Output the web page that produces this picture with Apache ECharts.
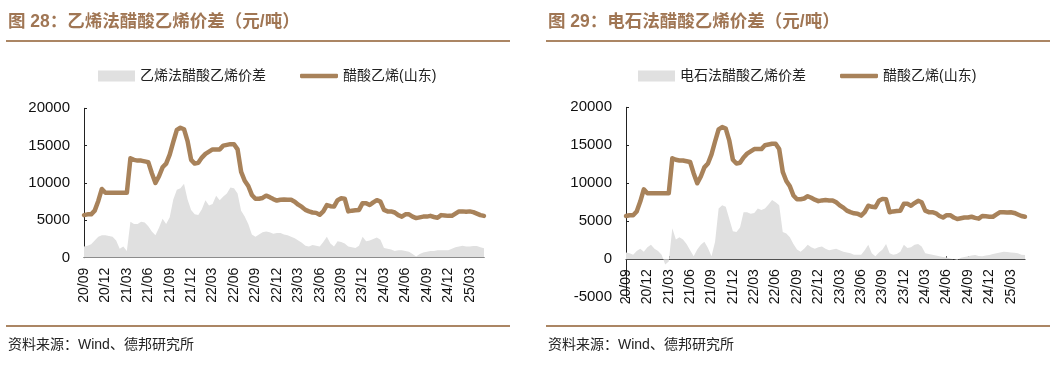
<!DOCTYPE html>
<html>
<head>
<meta charset="utf-8">
<script src="https://cdn.jsdelivr.net/npm/echarts@6/dist/echarts.min.js"></script>
<style>
html,body{margin:0;padding:0;background:#fff;}
#c{width:1063px;height:367px;}
</style>
</head>
<body>
<div id="c"></div>
<script>
// ---- data (half-monthly, 2020-09-01 .. 2025-05-01) ----
const categories = [];
for (let m = 0; m <= 56; m++) {
  const y = 2020 + Math.floor((8 + m) / 12);
  const mo = ((8 + m) % 12) + 1;
  const mm = (mo < 10 ? '0' : '') + mo;
  categories.push(y + '-' + mm + '-01');
  if (m < 56) categories.push(y + '-' + mm + '-16');
}
const tickMonths = ['03', '06', '09', '12'];

const vaPrice = [
  5700,5800,5800,6300,7600,9200,8700,8700,8700,8700,
  8700,8700,8700,13300,13100,13000,13000,12900,12800,11300,
  10000,10900,12100,12600,13800,15500,17100,17400,17200,15600,
  13100,12600,12700,13400,13900,14200,14500,14500,14500,15000,
  15100,15200,15200,14500,11500,10300,9600,8400,7900,7900,
  8000,8300,8100,7850,7650,7750,7800,7750,7750,7500,
  7100,6800,6400,6200,6050,6000,5750,6200,7050,6900,
  6850,7700,7950,7900,6200,6300,6350,6400,7300,7300,
  7050,7400,7700,7500,6400,6200,6200,6050,5700,5500,
  5800,5800,5500,5300,5400,5500,5500,5600,5450,5350,
  5700,5650,5600,5600,5900,6200,6200,6150,6200,6100,
  5900,5700,5600
];
const ethyleneSpread = [
  1500,1600,1800,2300,2800,3000,3000,2900,2800,2300,
  1200,1500,900,4800,4500,4500,4800,4700,4200,3500,
  3000,4000,5200,4500,5400,7800,9100,9300,9900,7800,
  6400,5800,5700,6500,7700,7000,7200,8300,7700,8200,
  8600,9400,9300,8600,6300,5500,4500,3100,2800,3100,
  3400,3500,3400,3200,3300,3300,3100,3000,2800,2600,
  2300,2000,1600,1500,1700,1600,1500,2100,2800,1900,
  1500,2200,2100,1900,1500,1400,1300,1600,2800,2200,
  2300,2500,2700,2400,1300,1200,1100,900,1000,1000,
  900,800,500,150,500,700,800,900,900,1000,
  1000,1000,1000,1200,1400,1500,1600,1500,1500,1550,
  1550,1400,1250
];
const carbideSpread = [
  900,800,600,1100,1400,1000,1600,1900,1400,1100,
  600,-700,-300,4100,2600,2900,2600,2000,1200,400,
  1300,1900,2300,1500,400,2300,6700,7100,6900,5300,
  3700,3600,4200,6200,6200,6000,6100,6700,6500,6700,
  7200,7800,7500,7100,3600,3400,2900,2000,1300,1000,
  1400,1900,1600,1400,1600,1700,1400,1200,1300,1400,
  1200,1000,900,800,600,600,600,1200,1900,800,
  400,900,1300,2000,800,600,700,1000,1900,1500,
  1600,1900,2000,1700,800,700,600,500,400,300,
  250,100,0,-100,200,300,400,500,550,450,
  400,500,550,700,800,900,1000,950,900,850,
  800,600,550
];
const titles = ['图 28：乙烯法醋酸乙烯价差（元/吨）', '图 29：电石法醋酸乙烯价差（元/吨）'];
const spreadNames = ['乙烯法醋酸乙烯价差', '电石法醋酸乙烯价差'];
const priceName = '醋酸乙烯(山东)';
const sourceText = '资料来源：Wind、德邦研究所';

// ---- styles ----
const FONT = '"Liberation Sans", Arial, "Noto Sans CJK SC", sans-serif';
const BROWN = '#a8825a';
const TITLE_C = '#a07654';
const GRAY = '#e0e0e0';

const isTick = (i) => {
  const c = categories[i];
  return c.slice(8) === '01' && tickMonths.indexOf(c.slice(5, 7)) >= 0;
};

function xAxis(gi, offset) {
  return {
    type: 'category', gridIndex: gi, data: categories, boundaryGap: false,
    position: 'bottom', offset: offset,
    axisLine: { show: true, onZero: false, lineStyle: { color: '#222', width: 1 } },
    axisTick: { show: true, inside: true, length: 3, interval: (i) => isTick(i), lineStyle: { color: '#222' } },
    axisLabel: {
      interval: (i) => isTick(i), rotate: 90, margin: 10,
      fontSize: 14, color: '#111', fontFamily: FONT,
      formatter: (v) => v.slice(2, 4) + '/' + v.slice(5, 7)
    },
    splitLine: { show: false }
  };
}
function yAxis(gi, min) {
  return {
    type: 'value', gridIndex: gi, min: min, max: 20000, interval: 5000,
    axisLine: { show: true, onZero: false, lineStyle: { color: '#222', width: 1 } },
    axisTick: { show: true, inside: true, length: 3, lineStyle: { color: '#222' } },
    axisLabel: { fontSize: 15, color: '#111', fontFamily: FONT, margin: 14,
      formatter: (v) => String(v) },
    splitLine: { show: false }
  };
}
function legends(offset, spreadName) {
  return [
    { left: 93 + offset, top: 64, itemWidth: 37, itemHeight: 11, itemGap: 0,
      icon: 'rect', data: [spreadName],
      textStyle: { fontSize: 14, color: '#222', fontFamily: FONT } },
    { left: 295 + offset, top: 64, itemWidth: 38, itemHeight: 4.5, itemGap: 0,
      icon: 'roundRect', data: [{ name: priceName, itemStyle: { color: BROWN } }],
      textStyle: { fontSize: 14, color: '#222', fontFamily: FONT } }
  ];
}
function series(gi, spreadName, spread) {
  return [
    { name: spreadName, type: 'line', xAxisIndex: gi, yAxisIndex: gi, data: spread,
      symbol: 'none', lineStyle: { width: 0, color: GRAY }, itemStyle: { color: GRAY },
      areaStyle: { color: GRAY, opacity: 1, origin: 0 }, z: 1, silent: true, animation: false },
    { name: priceName, type: 'line', xAxisIndex: gi, yAxisIndex: gi, data: vaPrice,
      symbol: 'none', lineStyle: { width: 4.5, color: BROWN, cap: 'round', join: 'round' },
      itemStyle: { color: BROWN }, z: 3, silent: true, animation: false }
  ];
}
function chrome(offset, title) {
  return [
    { type: 'text', left: 8 + offset, top: 13, silent: true,
      style: { text: title, fontSize: 17.5, fontWeight: 'bold', fill: TITLE_C, fontFamily: FONT } },
    { type: 'line', silent: true, shape: { x1: 6 + offset, y1: 41, x2: 510 + offset, y2: 41 },
      style: { stroke: '#ab8664', lineWidth: 2 } },
    { type: 'line', silent: true, shape: { x1: 6 + offset, y1: 326, x2: 510 + offset, y2: 326 },
      style: { stroke: '#ab8664', lineWidth: 2 } },
    { type: 'text', left: 8 + offset, top: 338, silent: true,
      style: { text: sourceText, fontSize: 14, fill: '#222', fontFamily: FONT } }
  ];
}

const chart = echarts.init(document.getElementById('c'), null, { renderer: 'canvas' });
chart.setOption({
  animation: false,
  backgroundColor: '#fff',
  grid: [
    { left: 84, top: 108.3, width: 400, height: 149.4 },
    { left: 626, top: 107.3, width: 399, height: 190 }
  ],
  xAxis: [xAxis(0, 0), xAxis(1, -38)],
  yAxis: [yAxis(0, 0), yAxis(1, -5000)],
  legend: legends(0, spreadNames[0]).concat(legends(540, spreadNames[1])),
  series: series(0, spreadNames[0], ethyleneSpread).concat(series(1, spreadNames[1], carbideSpread)),
  graphic: chrome(0, titles[0]).concat(chrome(540, titles[1]))
});
</script>
</body>
</html>
